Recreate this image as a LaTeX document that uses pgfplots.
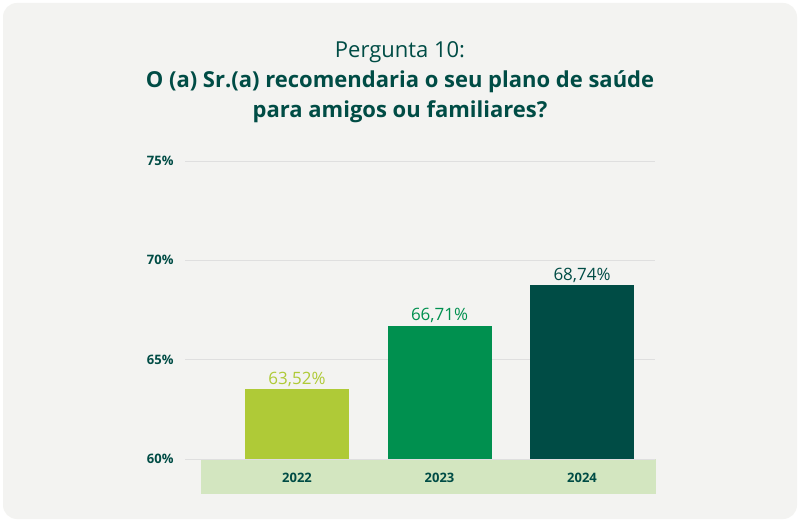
\documentclass[border=0pt]{standalone}
\usepackage{pgfplots}
\pgfplotsset{compat=1.18}
\usepackage{fontspec}
\setmainfont{Open Sans}
\definecolor{bg}{HTML}{F3F3F1}
\definecolor{dk}{HTML}{004C45}
\definecolor{gr}{HTML}{00904F}
\definecolor{lm}{HTML}{AFCA37}
\definecolor{band}{HTML}{D3E6C0}
\begin{document}
\begin{tikzpicture}[x=1pt,y=1pt]
\fill[white] (0,0) rectangle (800,522);
\fill[bg,rounded corners=14pt] (3,3) rectangle (797,519);
\fill[band] (201,28) rectangle (656,63);
\node[text=dk,font=\fontsize{22}{31}\selectfont,align=center] at (400,440) {Pergunta 10:\\[-1pt]\textbf{O (a) Sr.(a) recomendaria o seu plano de saúde}\\[-1pt]\textbf{para amigos ou familiares?}};
\begin{axis}[at={(185pt,63pt)},anchor=south west,scale only axis,
 width=470pt,height=298pt,xmin=-0.786,xmax=2.512,ymin=60,ymax=75,
 axis line style={draw=none},tick style={draw=none},
 ytick={60,65,70,75},yticklabels={60\%,65\%,70\%,75\%},
 yticklabel style={font=\bfseries\fontsize{13}{15}\selectfont,text=dk,xshift=-8pt},
 ymajorgrids,grid style={gray!25,line width=0.8pt},
 xtick={0,1,2},xticklabels={2022,2023,2024},
 xticklabel style={font=\bfseries\fontsize{13}{15}\selectfont,text=dk,yshift=-6pt},
 clip=false,ybar,bar width=104pt,bar shift=0pt,
 nodes near coords,point meta=explicit symbolic,
 every node near coord/.append style={font=\fontsize{17}{19}\selectfont,yshift=-1pt}]
\addplot[fill=lm,draw=none,every node near coord/.append style={text=lm}] coordinates {(0,63.52)[63,52\%]};
\addplot[fill=gr,draw=none,every node near coord/.append style={text=gr}] coordinates {(1,66.71)[66,71\%]};
\addplot[fill=dk,draw=none,every node near coord/.append style={text=dk}] coordinates {(2,68.74)[68,74\%]};
\end{axis}
\end{tikzpicture}
\end{document}
